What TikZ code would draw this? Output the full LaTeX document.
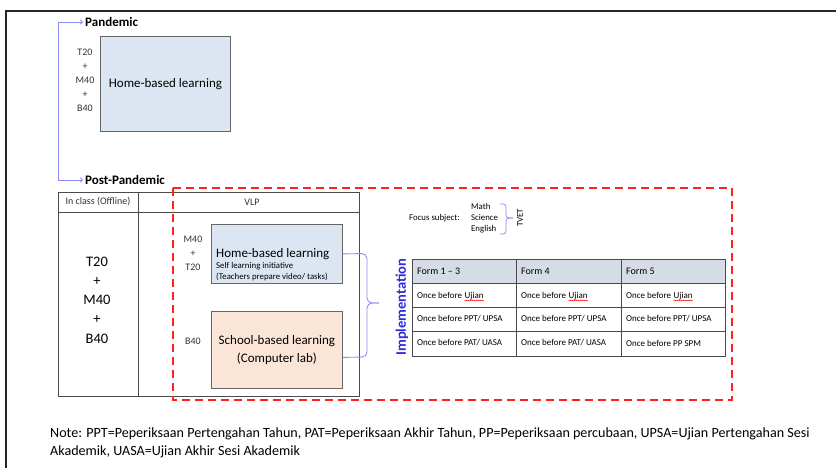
\documentclass[tikz,border=0pt]{standalone}
\usepackage{fontspec}
\setmainfont{Carlito}
\usetikzlibrary{arrows.meta,decorations.pathmorphing}
\definecolor{bluefill}{HTML}{DCE6F2}
\definecolor{peach}{HTML}{FBE5D6}
\definecolor{hdr}{HTML}{D6DCE5}
\definecolor{lav}{HTML}{8C8CF5}
\definecolor{impl}{HTML}{2B2BE0}
\definecolor{frame}{HTML}{4A4A4A}
\definecolor{dashred}{HTML}{FF2020}
\tikzset{
  ttl/.style={font=\fontsize{13}{15}\selectfont\bfseries, inner sep=2pt},
  arr/.style={lav, line width=0.9pt, -{To[length=3pt,width=5pt]}},
  box/.style={draw=gray!80!black, line width=0.8pt, inner sep=0pt},
  lab/.style={font=\fontsize{10}{14}\selectfont, align=center, inner sep=0pt, text=black!80},
  hd/.style={font=\fontsize{10}{12}\selectfont, inner sep=0pt, text=black!80},
  big/.style={font=\fontsize{14.5}{19.3}\selectfont, align=center, inner sep=0pt},
  ct/.style={font=\fontsize{9}{11}\selectfont, inner sep=0pt, anchor=west},
  cth/.style={font=\fontsize{10}{12}\selectfont, inner sep=0pt, anchor=west},
  fs/.style={font=\fontsize{8.8}{11}\selectfont, inner sep=0pt},
  wavy/.style={red, line width=0.4pt, decorate, decoration={snake, amplitude=0.5pt, segment length=2pt}},
  brc/.style={lav, line width=0.9pt, rounded corners=5pt},
  tline/.style={frame, line width=0.9pt}
}
\begin{document}
\begin{tikzpicture}[x=1pt,y=-1pt]
\useasboundingbox (0,0) rectangle (836,468);
% outer frame
\draw[line width=1.3pt, black!85] (6,468) -- (6,11) -- (836,11);

% titles and arrows
\node[ttl, anchor=west] (pand) at (83,22) {Pandemic};
\node[ttl, anchor=west] (post) at (83,180) {Post-Pandemic};
\coordinate (vl) at (58,100);
\draw[arr] (vl) |- (pand.west);
\draw[arr] (vl) |- (post.west);

% pandemic box
\node[box, fill=bluefill, minimum width=130pt, minimum height=95pt, anchor=north west,
      font=\fontsize{13}{15}\selectfont] (hb1) at (100,36) {Home-based learning};
\node[lab] (lab1) at (85,80) {T20\\+\\M40\\+\\B40};

% post-pandemic table
\draw[tline] (58,192) rectangle (359,396);
\draw[tline] (58,212) -- (359,212);
\draw[tline] (138,192) -- (138,396);
\node[hd] (hdA) at (98,202) {In class (Offline)};
\node[hd] (hdB) at (252,202) {VLP};
\node[big] (lab3) at (97,300) {T20\\+\\M40\\+\\B40};

% VLP boxes
\node[box, fill=bluefill, minimum width=131pt, minimum height=59pt, anchor=north west] (hb2) at (211,224) {};
\node[anchor=base west, inner sep=0pt, font=\fontsize{13}{15}\selectfont] (hbt) at (216,257.5) {Home-based learning};
\node[anchor=base west, inner sep=0pt, font=\fontsize{8.8}{10}\selectfont] (hbs1) at (216,268) {Self learning initiative};
\node[anchor=base west, inner sep=0pt, font=\fontsize{8.8}{10}\selectfont] (hbs2) at (216,279.5) {(Teachers prepare video/ tasks)};
\node[box, fill=peach, minimum width=131pt, minimum height=77pt, anchor=north west, align=center,
      font=\fontsize{13}{18}\selectfont] (sb) at (211,311) {School-based learning\\(Computer lab)};
\node[lab] (lab4) at (193,253.5) {M40\\+\\T20};
\node[lab] (lab5) at (193,341) {B40};

% red dashed region
\draw[dashred, line width=1.7pt, dash pattern=on 8pt off 5pt] (173,188) rectangle (732,400);

% brace to implementation
\coordinate (tip) at (379,303);
\draw[brc] (hb2.east) -- (367,253.5) -- (367,303) -- (tip);
\draw[brc] (tip) -- (367,303) -- (367,357) -- ([yshift=-7.5pt]sb.east);
\node[rotate=90, font=\fontsize{14.5}{16}\selectfont\bfseries, text=impl, inner sep=0pt] (impl) at (402,307) {Implementation};

% focus subject
\node[fs, anchor=west] (fsl) at (409,218) {Focus subject:};
\node[fs, anchor=west, align=left] (fsub) at (471,218) {Math\\Science\\English};
\coordinate (ftip) at (513,218);
\draw[brc, rounded corners=3pt, line width=0.8pt] (500,204) -- (506,204) -- (506,218) -- (ftip);
\draw[brc, rounded corners=3pt, line width=0.8pt] (ftip) -- (506,218) -- (506,234) -- (500,234);
\node[fs, rotate=90] (tvet) at (520,218) {TVET};

% implementation table
\fill[hdr] (412,259) rectangle (725,283);
\draw[tline] (412,259) rectangle (725,356);
\draw[tline] (412,283) -- (725,283);
\draw[tline] (412,307) -- (725,307);
\draw[tline] (412,331) -- (725,331);
\draw[tline] (516,259) -- (516,356);
\draw[tline] (621,259) -- (621,356);

\node[cth] (h1) at (417,271) {Form 1 – 3};
\node[cth] (h2) at (521,271) {Form 4};
\node[cth] (h3) at (626,271) {Form 5};

\node[ct] (a1) at (417,295) {Once before};
\node[ct] (a2) at (521,295) {Once before};
\node[ct] (a3) at (626,295) {Once before};
\foreach \c in {1,2,3}{
  \node[ct, anchor=base west] (u\c) at ([xshift=2.1pt]a\c.base east) {Ujian};
  \draw[wavy] ([yshift=-0.6pt]u\c.south west) -- ([yshift=-0.6pt]u\c.south east);
}
\node[ct] (b1) at (417,319) {Once before PPT/ UPSA};
\node[ct] (b2) at (521,319) {Once before PPT/ UPSA};
\node[ct] (b3) at (626,319) {Once before PPT/ UPSA};
\node[ct] (c1) at (417,343) {Once before PAT/ UASA};
\node[ct] (c2) at (521,343) {Once before PAT/ UASA};
\node[ct] (c3) at (626,343) {Once before PP SPM};

% note
\node[anchor=north west, align=left, inner sep=0pt, font=\fontsize{14.1}{17.5}\selectfont] (note) at (50,428)
 {Note: PPT=Peperiksaan Pertengahan Tahun, PAT=Peperiksaan Akhir Tahun, PP=Peperiksaan percubaan, UPSA=Ujian Pertengahan Sesi\\Akademik, UASA=Ujian Akhir Sesi Akademik};
\end{tikzpicture}
\end{document}
